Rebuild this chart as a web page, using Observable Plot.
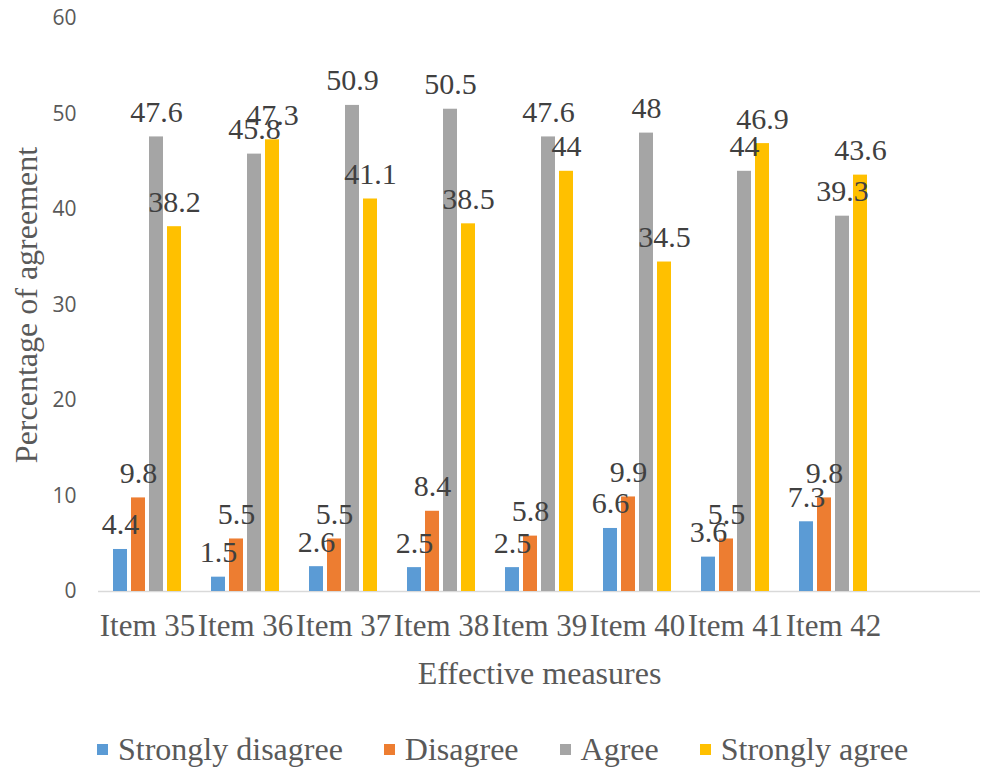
<!DOCTYPE html>
<html><head><meta charset="utf-8">
<script src="https://cdn.jsdelivr.net/npm/d3@7"></script>
<script src="https://cdn.jsdelivr.net/npm/@observablehq/plot@0.6"></script>
<style>
body{margin:0;background:#fff;width:983px;height:767px;overflow:hidden;}
#chart svg text{font-family:"Liberation Serif",serif;}
#chart svg g[aria-label="y-axis tick label"] text{font-family:"Open Sans",sans-serif;}
#legend{display:flex;align-items:center;padding-left:97px;margin-top:26px;font-family:"Liberation Serif",serif;font-size:32px;color:#595959;}
#legend .it{display:flex;align-items:center;margin-right:41px;}
#legend .sw{width:11px;height:11px;margin-right:10px;}
</style></head><body><div id="chart"></div><div id="legend"></div>
<script>
const items = ["Item 35","Item 36","Item 37","Item 38","Item 39","Item 40","Item 41","Item 42"];
const series = ["Strongly disagree","Disagree","Agree","Strongly agree"];
const colors = ["#5B9BD5","#ED7D31","#A5A5A5","#FFC000"];
const stronglyDisagree = [4.4,1.5,2.6,2.5,2.5,6.6,3.6,7.3];
const disagree = [9.8,5.5,5.5,8.4,5.8,9.9,5.5,9.8];
const agree = [47.6,45.8,50.9,50.5,47.6,48,44,39.3];
const stronglyAgree = [38.2,47.3,41.1,38.5,44,34.5,46.9,43.6];
const yTicks = [0,10,20,30,40,50,60];

const valuesBySeries = [stronglyDisagree, disagree, agree, stronglyAgree];
const data = [];
items.forEach((it, i) => series.forEach((s, j) => data.push({item: it, series: s, value: valuesBySeries[j][i]})));
const slots = [...items, " "];

const chart = Plot.plot({
  width: 983,
  height: 705,
  marginTop: 18,
  marginBottom: 114,
  marginLeft: 97,
  marginRight: 3,
  style: {background: "#fff", overflow: "visible", fontFamily: "Liberation Serif"},
  fx: {domain: slots, padding: 0, label: null},
  x: {domain: series, paddingInner: 0.222, paddingOuter: 0.833, axis: null},
  y: {domain: [0, 60], ticks: yTicks, label: null},
  color: {domain: series, range: colors},
  marks: [
    Plot.ruleY(slots, {fx: d => d, y: 0, stroke: "#d9d9d9", strokeWidth: 1.5}),
    Plot.barY(data, {fx: "item", x: "series", y: "value", fill: "series"}),
    Plot.text(data, {fx: "item", x: "series", y: "value", text: d => String(d.value), lineAnchor: "bottom", dy: -15, fill: "#404040", fontSize: 30, fontFamily: "Liberation Serif"}),
    Plot.axisY({ticks: yTicks, tickSize: 0, tickPadding: 22, fontSize: 21, fontFamily: "Open Sans", color: "#595959", label: null}),
    Plot.axisFx({anchor: "bottom", tickSize: 0, tickPadding: 22, fontSize: 31, fontFamily: "Liberation Serif", color: "#595959", label: null}),
    Plot.text(["Effective measures"], {frameAnchor: "bottom", dy: 92, fontSize: 32, fontFamily: "Liberation Serif", fill: "#595959", facet: "super"}),
    Plot.text(["Percentage of agreement"], {frameAnchor: "left", textAnchor: "middle", dx: -72, rotate: -90, fontSize: 32, fontFamily: "Liberation Serif", fill: "#595959", facet: "super"})
  ]
});
document.getElementById("chart").appendChild(chart);

const legend = document.getElementById("legend");
series.forEach((s, i) => {
  const it = document.createElement("div"); it.className = "it";
  const sw = document.createElement("div"); sw.className = "sw"; sw.style.background = colors[i];
  const t = document.createElement("span"); t.textContent = s;
  it.appendChild(sw); it.appendChild(t); legend.appendChild(it);
});
</script></body></html>
